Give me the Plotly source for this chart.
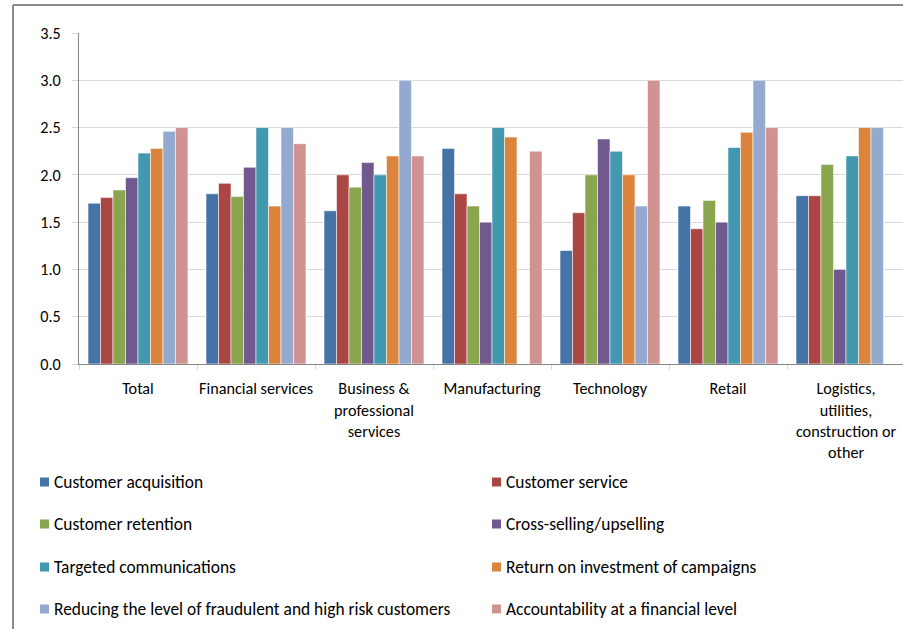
import plotly.graph_objects as go

# Sectors (x categories) and measures (series)
categories = [
    "Total",
    "Financial services",
    "Business &<br>professional<br>services",
    "Manufacturing",
    "Technology",
    "Retail",
    "Logistics,<br>utilities,<br>construction or<br>other",
]

series_names = [
    "Customer acquisition",
    "Customer service",
    "Customer retention",
    "Cross-selling/upselling",
    "Targeted communications",
    "Return on investment of campaigns",
    "Reducing the level of fraudulent and high risk customers",
    "Accountability at a financial level",
]

customer_acquisition = [1.70, 1.80, 1.62, 2.28, 1.20, 1.67, 1.78]
customer_service = [1.76, 1.91, 2.00, 1.80, 1.60, 1.43, 1.78]
customer_retention = [1.84, 1.77, 1.87, 1.67, 2.00, 1.73, 2.11]
cross_selling = [1.97, 2.08, 2.13, 1.50, 2.38, 1.50, 1.00]
targeted_comms = [2.23, 2.50, 2.00, 2.50, 2.25, 2.29, 2.20]
roi_campaigns = [2.28, 1.67, 2.20, 2.40, 2.00, 2.45, 2.50]
fraud_risk = [2.46, 2.50, 3.00, None, 1.67, 3.00, 2.50]
financial_accountability = [2.50, 2.33, 2.20, 2.25, 3.00, 2.50, None]

series_values = [
    customer_acquisition, customer_service, customer_retention, cross_selling,
    targeted_comms, roi_campaigns, fraud_risk, financial_accountability,
]

colors = ["#4572A7", "#AA4643", "#89A54E", "#71588F",
          "#4198AF", "#DB843D", "#93A9CF", "#D19392"]

y_ticks = [0.0, 0.5, 1.0, 1.5, 2.0, 2.5, 3.0, 3.5]

FONT = "Carlito, Calibri, Lato, sans-serif"
AXIS_SIZE = 16.2
LEGEND_SIZE = 17.4
W, H = 903, 629
L, R, T, B = 79, 0, 33, 265
PW, PH = W - L - R, H - T - B
BAND = 118  # px per category


def px_x(px):
    return (px - L) / PW


def px_y(py):
    return (H - B - py) / PH


fig = go.Figure()
for name, vals, col in zip(series_names, series_values, colors):
    fig.add_trace(go.Bar(
        x=categories, y=vals, name=name,
        marker=dict(color=col, line=dict(color="rgba(255,255,255,0.55)", width=1)),
        showlegend=False,
    ))

# Legend drawn as two columns of swatches and labels
shapes = []
annotations = []
col_x = [40, 492]
row_y = [482, 524, 567, 609]
for i, (name, col) in enumerate(zip(series_names, colors)):
    cx = col_x[i % 2]
    cy = row_y[i // 2]
    shapes.append(dict(
        type="rect", xref="paper", yref="paper",
        x0=px_x(cx), x1=px_x(cx + 9), y0=px_y(cy + 4.5), y1=px_y(cy - 4.5),
        fillcolor=col, line=dict(width=0),
    ))
    annotations.append(dict(
        xref="paper", yref="paper", x=px_x(cx + 12), y=px_y(cy),
        xanchor="left", yanchor="middle", text=name, showarrow=False,
        font=dict(family=FONT, size=LEGEND_SIZE, color="#000000"),
    ))

# Outer chart frame (top and left edges)
frame = dict(color="#8c8c8c", width=2)
shapes.append(dict(type="line", xref="paper", yref="paper",
                   x0=px_x(13), x1=px_x(905), y0=px_y(5), y1=px_y(5), line=frame))
shapes.append(dict(type="line", xref="paper", yref="paper",
                   x0=px_x(13), x1=px_x(13), y0=px_y(5), y1=px_y(640), line=frame))

fig.update_layout(
    width=W, height=H,
    margin=dict(l=L, r=R, t=T, b=B, pad=0, autoexpand=False),
    paper_bgcolor="white", plot_bgcolor="white",
    barmode="group", bargap=0.153, bargroupgap=0,
    font=dict(family=FONT, size=AXIS_SIZE, color="#000000"),
    shapes=shapes, annotations=annotations,
    showlegend=False,
)

fig.update_xaxes(
    type="category", range=[-0.5, -0.5 + PW / BAND],
    showline=True, linecolor="#868686", linewidth=1,
    showgrid=False, ticks="outside", tickson="boundaries",
    ticklen=5, tickcolor="#d9d9d9", tickfont=dict(family=FONT, size=AXIS_SIZE),
    ticklabelstandoff=10, tickangle=0, automargin=False,
)
fig.update_yaxes(
    range=[0, 3.5], tickvals=y_ticks, tickformat=".1f",
    showline=True, linecolor="#868686", linewidth=1,
    showgrid=True, gridcolor="#d9d9d9", gridwidth=1,
    ticks="outside", ticklen=6, tickcolor="#d9d9d9",
    tickfont=dict(family=FONT, size=AXIS_SIZE), ticklabelstandoff=8,
    zeroline=False, automargin=False,
)

fig.write_html("out.html")
